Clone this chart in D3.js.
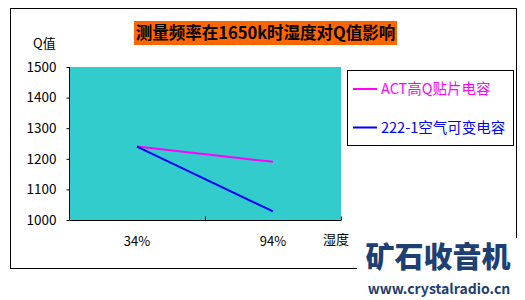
<!DOCTYPE html>
<html lang="zh">
<head>
<meta charset="UTF-8">
<title>测量频率在1650k时湿度对Q值影响</title>
<script src="https://d3js.org/d3.v7.min.js"></script>
<style>
  body { margin: 0; background: #fff; }
  text { font-family: "Noto Sans CJK SC", "Liberation Sans", sans-serif; }
</style>
</head>
<body>
<svg id="chart" width="525" height="300"></svg>
<script>
// data
var categories = ["34%", "94%"];
var seriesNames = ["ACT高Q贴片电容", "222-1空气可变电容"];
var actValues = [1240, 1190];
var airValues = [1240, 1028];
var yTicks = [1000, 1100, 1200, 1300, 1400, 1500];
var colors = ["#ff00ff", "#0000ff"];

var svg = d3.select("#chart");

// outer frame
svg.append("rect")
    .attr("x", 10.5).attr("y", 8.5)
    .attr("width", 506).attr("height", 260)
    .attr("fill", "#fff").attr("stroke", "#000");

// title
svg.append("rect")
    .attr("x", 134).attr("y", 21)
    .attr("width", 263).attr("height", 24)
    .attr("fill", "#ff6600");
svg.append("text")
    .attr("x", 265.5).attr("y", 39)
    .attr("text-anchor", "middle")
    .attr("font-size", 16.5)
    .attr("font-weight", "bold")
    .attr("fill", "#000")
    .text("测量频率在1650k时湿度对Q值影响");

// plot area
var plot = { left: 69, right: 341, top: 67, bottom: 220 };

var x = d3.scaleBand()
    .domain(categories)
    .range([plot.left, plot.right]);

var y = d3.scaleLinear()
    .domain([1000, 1500])
    .range([plot.bottom, plot.top]);

svg.append("rect")
    .attr("x", plot.left).attr("y", plot.top)
    .attr("width", plot.right - plot.left)
    .attr("height", plot.bottom - plot.top)
    .attr("fill", "#33cccc");

var yAxis = svg.append("g")
    .attr("transform", "translate(" + (plot.left + 0.5) + ",0)")
    .call(d3.axisLeft(y).tickValues(yTicks).tickFormat(d3.format("d")).tickSize(3).tickPadding(10));
yAxis.selectAll("text").attr("font-size", 13.5).attr("fill", "#000");
yAxis.selectAll("line").attr("stroke", "#000");
yAxis.select(".domain").attr("stroke", "#000").attr("d", "M0," + plot.top + "V" + plot.bottom);

var xAxis = svg.append("g")
    .attr("transform", "translate(0," + (plot.bottom + 0.5) + ")")
    .call(d3.axisBottom(x).tickSize(0).tickPadding(16));
xAxis.select(".domain").attr("stroke", "#000").attr("d", "M" + plot.left + ",0H" + plot.right);
xAxis.selectAll("text").attr("font-size", 13).attr("fill", "#000");
// tick marks between categories
xAxis.selectAll(".sep")
    .data(categories.concat(["end"]))
    .enter().append("line")
    .attr("x1", function (d, i) { return plot.left + i * x.bandwidth() + 0.5; })
    .attr("x2", function (d, i) { return plot.left + i * x.bandwidth() + 0.5; })
    .attr("y1", -4).attr("y2", 0)
    .attr("stroke", "#000");

// axis titles
svg.append("text")
    .attr("x", 33).attr("y", 48)
    .attr("font-size", 13).attr("fill", "#000")
    .text("Q值");
svg.append("text")
    .attr("x", 323).attr("y", 244)
    .attr("font-size", 13).attr("fill", "#000")
    .text("湿度");

// lines
var line = d3.line()
    .x(function (d, i) { return x(categories[i]) + x.bandwidth() / 2; })
    .y(function (d) { return y(d); });

[actValues, airValues].forEach(function (vals, i) {
    svg.append("path")
        .attr("d", line(vals))
        .attr("fill", "none")
        .attr("stroke", colors[i])
        .attr("stroke-width", 2);
});

// legend
svg.append("rect")
    .attr("x", 347.5).attr("y", 70.5)
    .attr("width", 166).attr("height", 75)
    .attr("fill", "#fff").attr("stroke", "#000");

var legend = svg.selectAll(".legend")
    .data(seriesNames)
    .enter().append("g")
    .attr("transform", function (d, i) { return "translate(353," + (89 + i * 38.5) + ")"; });
legend.append("line")
    .attr("x1", 0).attr("x2", 24)
    .attr("stroke", function (d, i) { return colors[i]; })
    .attr("stroke-width", 2);
legend.append("text")
    .attr("x", 28).attr("y", 5)
    .attr("font-size", 14.5)
    .attr("fill", function (d, i) { return colors[i]; })
    .text(function (d) { return d; });

// watermark
svg.append("rect")
    .attr("x", 357).attr("y", 238)
    .attr("width", 168).attr("height", 62)
    .attr("fill", "#fff");
svg.append("text")
    .attr("x", 438).attr("y", 268)
    .attr("text-anchor", "middle")
    .attr("font-size", 29)
    .attr("font-weight", "900")
    .attr("fill", "#1d3f72")
    .text("矿石收音机");
svg.append("text")
    .attr("x", 439).attr("y", 294)
    .attr("text-anchor", "middle")
    .attr("font-size", 14)
    .attr("font-weight", "bold")
    .attr("font-family", "Lato, sans-serif")
    .attr("fill", "#1d3f72")
    .text("www.crystalradio.cn");
</script>
</body>
</html>
